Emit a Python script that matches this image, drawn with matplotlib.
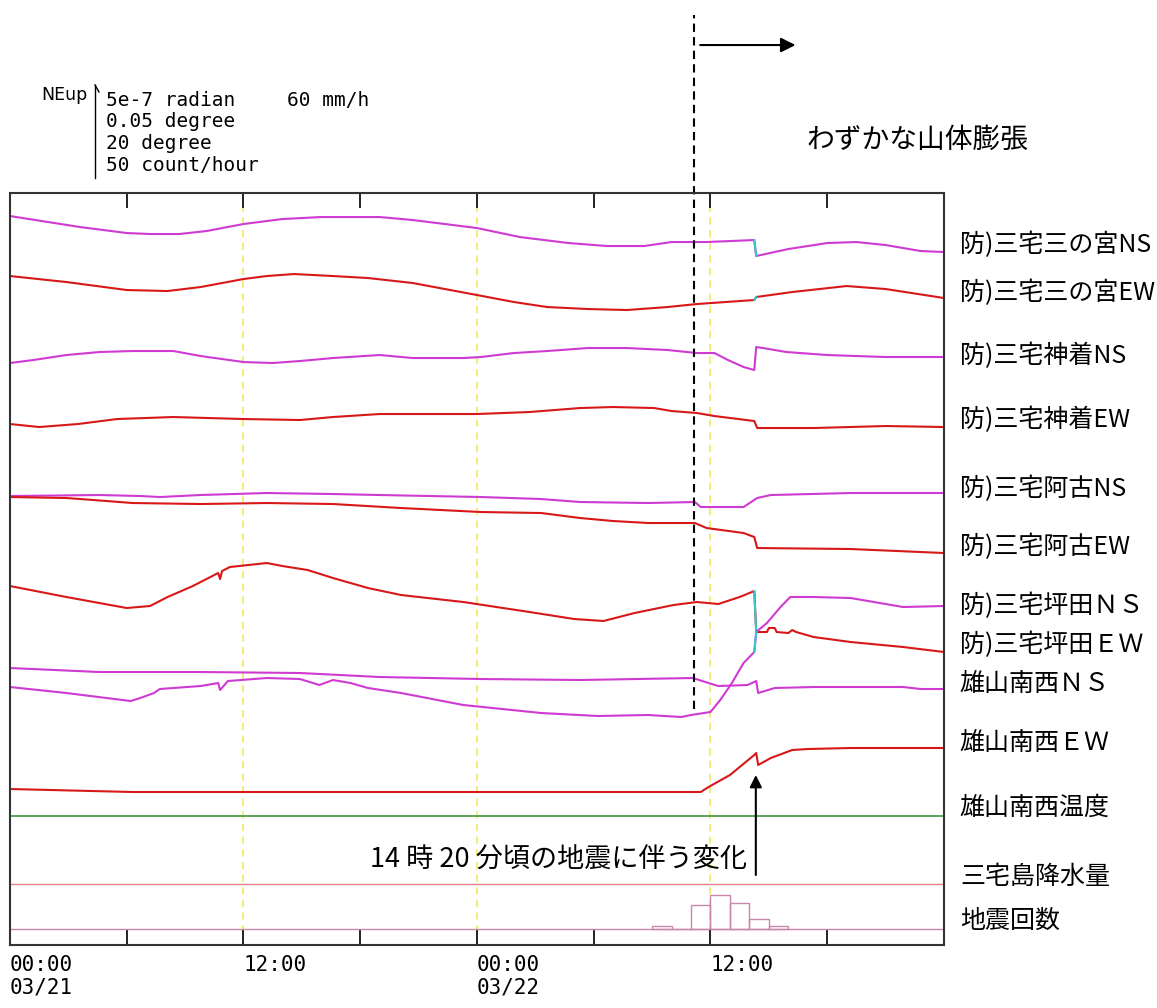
#!/usr/bin/env python3
import matplotlib

matplotlib.use("Agg")
from matplotlib import pyplot as plt
from matplotlib.lines import Line2D
from matplotlib.transforms import blended_transform_factory

# hours since 03/21 00:00, trace levels in chart units (0 = bottom of frame)
T_SNM_NS = [0, 3.6, 6.0, 7.2, 8.7, 10.1, 12.0, 14.0, 16.0, 19.0, 20.7, 24.0, 26.2, 28.7,
            30.7, 32.6, 34.0, 35.8, 38.25, 38.35, 40.0, 42.0, 43.5, 45.0, 46.8, 48.0]
V_SNM_NS = [729, 718, 712, 711, 711, 714, 721, 726, 728, 728, 725, 717, 708, 702,
            699, 699, 703, 703, 705, 689, 696, 702, 703, 700, 694, 693]

T_SNM_EW = [0, 2.9, 6.0, 8.1, 9.8, 12.0, 13.2, 14.6, 16.6, 18.4, 20.7, 24.0, 25.9, 27.6,
            29.7, 31.7, 33.8, 35.3, 38.25, 38.35, 40.2, 43.0, 45.0, 48.0]
V_SNM_EW = [669, 663, 655, 654, 658, 666, 669, 671, 669, 667, 662, 650, 643, 638,
            636, 635, 638, 641, 645, 648, 653, 659, 656, 647]

T_KMT_NS = [0, 1.2, 2.9, 4.6, 6.3, 8.4, 9.8, 12.0, 13.5, 14.9, 16.6, 19.0, 20.7, 23.3,
            24.2, 25.9, 27.6, 29.7, 31.7, 33.8, 35.3, 36.2, 36.9, 37.7, 38.25, 38.35,
            38.7, 39.9, 42.0, 45.0, 48.0]
V_KMT_NS = [582, 585, 590, 593, 594, 594, 589, 583, 582, 584, 587, 590, 587, 587,
            588, 592, 594, 597, 597, 595, 592, 592, 585, 578, 575, 598,
            597, 593, 590, 588, 588]

T_KMT_EW = [0, 1.5, 3.5, 5.5, 8.4, 12.0, 14.9, 16.6, 19.0, 24.0, 26.7, 29.3, 31.0, 33.1,
            34.0, 35.3, 36.2, 38.25, 38.4, 41.3, 45.0, 48.0]
V_KMT_EW = [521, 518, 521, 526, 528, 526, 525, 528, 531, 531, 533, 537, 538, 537,
            534, 532, 529, 524, 517, 517, 519, 518]

T_AKO_NS = [0, 4.6, 6.7, 7.7, 9.8, 13.2, 16.6, 19.0, 24.2, 27.3, 29.3, 32.8, 35.2, 35.5,
            37.7, 38.4, 39.1, 43.2, 48.0]
V_AKO_NS = [449, 450, 449, 448, 450, 452, 451, 450, 448, 446, 443, 442, 443, 438,
            438, 447, 450, 452, 452]

T_AKO_EW = [0, 2.9, 4.3, 6.3, 9.8, 13.2, 16.6, 20.1, 24.2, 27.3, 29.3, 31.0, 32.8, 35.2,
            35.8, 37.7, 38.25, 38.4, 43.2, 48.0]
V_AKO_EW = [448, 447, 445, 442, 441, 442, 441, 437, 433, 432, 427, 424, 422, 422,
            417, 412, 408, 397, 396, 392]

T_TBT_NS = [0, 2.9, 6.2, 6.7, 7.4, 7.7, 9.8, 10.7, 10.8, 11.2, 13.2, 14.9, 15.9, 16.6,
            17.5, 18.4, 20.1, 23.3, 27.3, 30.2, 32.8, 34.5, 35.0, 36.0, 36.5, 37.1,
            37.7, 38.25, 38.35, 38.9, 39.6, 40.1, 41.3, 43.2, 45.9, 48.0]
V_TBT_NS = [258, 252, 244, 247, 252, 256, 259, 262, 255, 264, 267, 266, 260, 265,
            262, 257, 252, 240, 232, 229, 230, 228, 230, 233, 245, 262,
            282, 293, 313, 322, 338, 348, 348, 347, 338, 339]

T_TBT_EW = [0, 2.9, 6.0, 7.2, 8.1, 9.4, 10.7, 10.8, 10.9, 11.3, 13.2, 14.0, 15.3, 16.6,
            18.4, 20.1, 23.3, 26.7, 29.0, 30.5, 32.1, 34.1, 35.3, 36.4, 37.5, 38.25,
            38.35, 38.9, 39.0, 39.3, 39.4, 40.0, 40.2, 40.4, 41.3, 43.2, 45.9, 48.0]
V_TBT_EW = [359, 348, 337, 339, 348, 359, 372, 366, 374, 378, 382, 379, 375, 367,
            357, 350, 343, 333, 326, 324, 332, 340, 343, 341, 348, 354,
            313, 313, 317, 317, 313, 312, 315, 313, 308, 303, 298, 293]

T_OYM_NS = [0, 4.6, 9.8, 14.9, 19.0, 24.2, 29.3, 35.1, 35.9, 36.4, 37.9, 38.25, 38.35,
            38.45, 39.3, 41.3, 45.9, 46.8, 48.0]
V_OYM_NS = [277, 273, 273, 272, 268, 266, 265, 267, 262, 259, 260, 263, 264,
            252, 257, 258, 258, 256, 256]

T_OYM_EW = [0, 6.3, 35.5, 35.9, 37.0, 38.25, 38.35, 38.45, 39.1, 40.2, 41.0, 43.2, 48.0]
V_OYM_EW = [156, 153, 153, 158, 170, 190, 192, 180, 187, 195, 196, 197, 197]

TEMP_T = [0, 48]
TEMP_V = [129, 129]
RAIN_T = [0, 48]
RAIN_V = [61, 61]

QUAKE_BASE = 16
QUAKE_HOURS = [33, 34, 35, 36, 37, 38, 39]
QUAKE_COUNTS = [3, 0, 24, 34, 26, 10, 3]

ONSET_HOUR = 35.17   # start of slight inflation
EQ_HOUR = 38.33      # 14:20 earthquake

LABELS = ["防)三宅三の宮NS", "防)三宅三の宮EW", "防)三宅神着NS", "防)三宅神着EW",
          "防)三宅阿古NS", "防)三宅阿古EW", "防)三宅坪田ＮＳ", "防)三宅坪田ＥＷ",
          "雄山南西ＮＳ", "雄山南西ＥＷ", "雄山南西温度", "三宅島降水量", "地震回数"]
LABEL_Y = [700, 652, 589, 525, 456, 398, 339, 300, 261, 202, 137, 68, 24]

TICK_HOURS = [0, 6, 12, 18, 24, 30, 36, 42]
TICK_LABELS = ["00:00\n03/21", "", "12:00", "", "00:00\n03/22", "", "12:00", ""]

MAGENTA = "#cf3bd2"
RED = "#d81818"
JUMP = "#33c8d0"


def draw_trace(ax, t, v, color, cyan_jump):
    ax.plot(t, v, color=color, lw=1.5)
    if not cyan_jump:
        return
    for i in range(len(t) - 1):
        if abs(t[i] - EQ_HOUR) < 0.2 and t[i + 1] - t[i] < 0.2:
            ax.plot(t[i:i + 2], v[i:i + 2], color=JUMP, lw=1.5)


def main():
    plt.rcParams["font.family"] = ["Noto Sans CJK JP", "DejaVu Sans"]

    fig = plt.figure(figsize=(11.57, 10.08), dpi=100)
    ax = fig.add_axes((0.0086, 0.0625, 0.8073, 0.746))
    ax.set_xlim(0, 48)
    ax.set_ylim(0, 752)

    for h in (12, 24, 36):
        ax.axvline(h, color="#f2ea6a", lw=1.3, ls=(0, (4, 3)), zorder=1)

    traces = [
        (T_SNM_NS, V_SNM_NS, MAGENTA, True),
        (T_SNM_EW, V_SNM_EW, RED, True),
        (T_KMT_NS, V_KMT_NS, MAGENTA, False),
        (T_KMT_EW, V_KMT_EW, RED, False),
        (T_AKO_NS, V_AKO_NS, MAGENTA, False),
        (T_AKO_EW, V_AKO_EW, RED, False),
        (T_TBT_EW, V_TBT_EW, RED, True),
        (T_TBT_NS, V_TBT_NS, MAGENTA, True),
        (T_OYM_NS, V_OYM_NS, MAGENTA, False),
        (T_OYM_EW, V_OYM_EW, RED, False),
    ]
    for t, v, color, cyan in traces:
        draw_trace(ax, t, v, color, cyan)

    ax.plot(TEMP_T, TEMP_V, color="#2f8a2f", lw=1.1)
    ax.plot(RAIN_T, RAIN_V, color="#e88080", lw=1.0)
    ax.axhline(QUAKE_BASE, color="#c985aa", lw=1.0)
    ax.bar(QUAKE_HOURS, QUAKE_COUNTS, width=1, align="edge", bottom=QUAKE_BASE,
           fill=False, edgecolor="#c985aa", lw=1.0)

    # frame and ticks
    for side in ax.spines.values():
        side.set_color("#333333")
        side.set_linewidth(1.5)
    ax.set_yticks([])
    ax.set_xticks(TICK_HOURS)
    ax.set_xticklabels(TICK_LABELS, fontfamily="DejaVu Sans Mono", fontsize=15)
    for lbl in ax.get_xticklabels():
        lbl.set_ha("left")
        lbl.set_va("top")
    ax.tick_params(axis="x", direction="in", length=11, width=1.4, color="#222222",
                   top=True, bottom=True, pad=7)

    # channel names
    trans = blended_transform_factory(ax.transAxes, ax.transData)
    for name, y in zip(LABELS, LABEL_Y):
        ax.text(1.017, y, name, transform=trans, fontsize=18, va="center", ha="left")

    # onset line and arrow
    ax.plot([ONSET_HOUR, ONSET_HOUR], [236, 930], color="black", lw=1.5,
            dashes=(4, 2.5), clip_on=False)
    ax.annotate("", xy=(ONSET_HOUR + 5.2, 900), xytext=(ONSET_HOUR + 0.3, 900),
                arrowprops=dict(arrowstyle="-|>", color="black", lw=1.5,
                                mutation_scale=22, shrinkA=0, shrinkB=0),
                annotation_clip=False)
    fig.text(0.697, 0.861, "わずかな山体膨張", fontsize=20, va="center", ha="left")

    # earthquake arrow
    ax.annotate("", xy=(EQ_HOUR, 170), xytext=(EQ_HOUR, 70),
                arrowprops=dict(arrowstyle="-|>", color="black", lw=1.5,
                                mutation_scale=18, shrinkA=0, shrinkB=0))
    ax.text(EQ_HOUR - 0.45, 85, "14 時 20 分頃の地震に伴う変化", fontsize=19.5,
            ha="right", va="center")

    # scale legend
    fig.text(0.036, 0.9058, "NEup", fontfamily="DejaVu Sans", fontsize=12.5,
             va="center", ha="left")
    fig.add_artist(Line2D([95 / 1157, 95 / 1157], [1 - 178 / 1008, 1 - 85 / 1008],
                          color="black", lw=1.0))
    fig.add_artist(Line2D([95 / 1157, 99 / 1157], [1 - 85 / 1008, 1 - 92 / 1008],
                          color="black", lw=1.0))
    legend_lines = ["5e-7 radian", "0.05 degree", "20 degree", "50 count/hour"]
    for i, line in enumerate(legend_lines):
        fig.text(0.0916, 1 - (100 + 21.7 * i) / 1008, line,
                 fontfamily="DejaVu Sans Mono", fontsize=14, va="center", ha="left")
    fig.text(286.7 / 1157, 1 - 100 / 1008, "60 mm/h", fontfamily="DejaVu Sans Mono",
             fontsize=14, va="center", ha="left")

    fig.savefig("out.png", dpi=100)


if __name__ == "__main__":
    main()
